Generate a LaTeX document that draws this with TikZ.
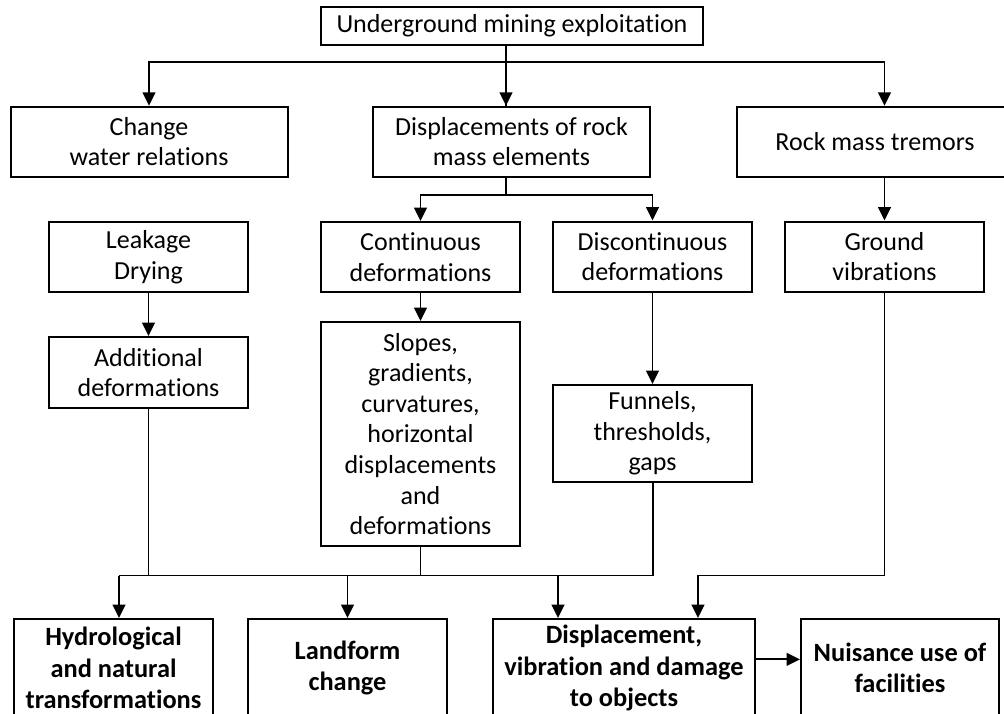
\documentclass[tikz,border=0pt]{standalone}
\usepackage{fontspec}
\setmainfont{Carlito}[Ligatures=NoCommon]
\usetikzlibrary{arrows.meta}

\tikzset{every picture/.style={line width=1.4pt}}
\tikzset{
  box/.style={draw, line width=1.5pt, align=center, inner sep=2pt,
    font=\fontsize{19.5}{22.9}\selectfont},
  boldbox/.style={box, font=\fontsize{19.8}{23.6}\selectfont\bfseries},
  arr/.style={-{Triangle[length=10pt,width=9.5pt]}}
}

\begin{document}
\begin{tikzpicture}[x=0.75pt,y=0.75pt,yscale=-1,xscale=1]
\clip (0,0) rectangle (1004,714);

% Text Node
\node [box, minimum width=286.5pt, minimum height=28.5pt] (mining) at (512,26) {Underground mining exploitation};
% Row 2
\node [box, minimum width=207.75pt, minimum height=52.5pt] (water) at (149,141.7) {Change\\water relations};
\node [box, minimum width=207.75pt, minimum height=52.5pt] (displ) at (511.5,141.7) {Displacements of rock\\mass elements};
\node [box, minimum width=207.75pt, minimum height=52.5pt] (tremor) at (875,141.7) {Rock mass tremors};
% Row 3
\node [box, minimum width=149.25pt, minimum height=52.5pt] (leak) at (148.5,257) {Leakage\\Drying};
\node [box, minimum width=149.25pt, minimum height=52.5pt] (cont) at (420.5,257) {Continuous\\deformations};
\node [box, minimum width=149.25pt, minimum height=52.5pt] (discont) at (652.5,256.5) {Discontinuous\\deformations};
\node [box, minimum width=149.25pt, minimum height=52.5pt] (ground) at (884.5,256.5) {Ground\\vibrations};
% Row 4
\node [box, minimum width=149.25pt, minimum height=53.25pt] (addit) at (148.5,372.5) {Additional\\deformations};
\node [box, minimum width=149.25pt, minimum height=168pt] (slopes) at (420.5,434) {Slopes,\\gradients,\\curvatures,\\horizontal\\displacements\\and\\deformations};
\node [box, minimum width=149.25pt, minimum height=72.75pt] (funnels) at (652.5,433.5) {Funnels,\\thresholds,\\gaps};
% Bottom row
\node [boldbox, minimum width=149.25pt, minimum height=73.5pt] (hydro) at (113.5,668) {Hydrological\\and natural\\transformations};
\node [boldbox, minimum width=149.25pt, minimum height=73.5pt] (landform) at (347.5,668) {Landform\\change};
\node [boldbox, minimum width=196.5pt, minimum height=73.5pt] (damage) at (624,668) {Displacement,\\vibration and damage\\to objects};
\node [boldbox, minimum width=148.5pt, minimum height=73.5pt] (nuisance) at (900,668) {Nuisance use of\\facilities};

%Straight Lines
\coordinate (topbus) at (506,61.7);
\draw (mining.south -| topbus) -- (displ.north -| topbus);
\draw [arr] (topbus) -- (displ.north -| topbus);
\draw [arr] (topbus) -| (water.north);
\draw [arr] (topbus) -| (tremor.north -| ground.north);
%Straight Lines
\draw (displ.south -| topbus) -- ++(0,17.3) coordinate (displbus);
\draw [arr] (displbus) -| (cont.north);
\draw [arr] (displbus) -| (discont.north);
\draw [arr] (tremor.south -| ground.north) -- (ground.north);
\draw [arr] (leak) -- (addit);
\draw [arr] (cont) -- (slopes);
\draw [arr] (discont) -- (funnels);
%Straight Lines
\coordinate (busl) at (119,575.5);
\coordinate (busr) at (653,575.5);
\draw (addit.south) -- (addit.south |- busl);
\draw (slopes.south) -- (slopes.south |- busl);
\draw (funnels.south -| busr) -- (busr);
\draw (busl) -- (busr);
\draw [arr] (busl) -- (busl |- hydro.north);
\draw [arr] (landform.north |- busl) -- (landform.north);
\draw [arr] (558,575.5) coordinate (busd) -- (busd |- damage.north);
\draw [arr] (ground.south) |- (698,575.5) coordinate (busg) -- (busg |- damage.north);
\draw [arr] ([yshift=-6.5pt]damage.east) -- ([yshift=-6.5pt]damage.east -| nuisance.west);

\end{tikzpicture}
\end{document}
